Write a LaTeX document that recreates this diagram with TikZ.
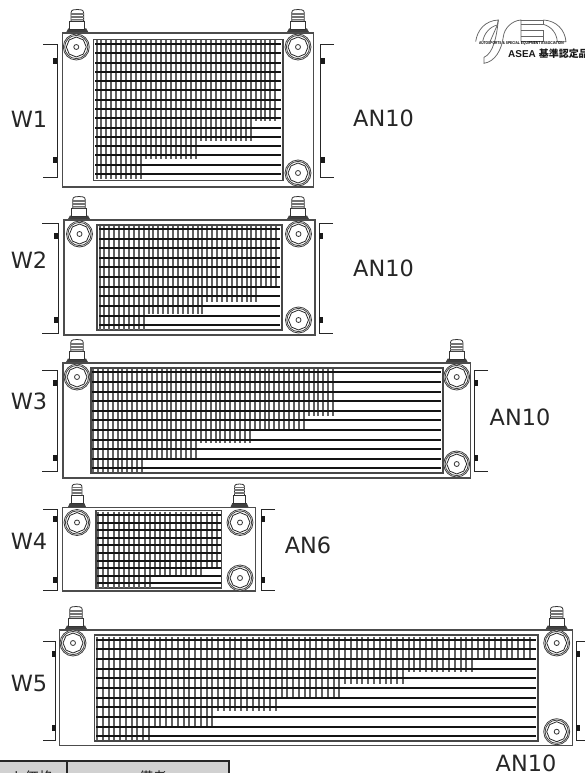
\documentclass[tikz,border=0pt]{standalone}
\usepackage{fontspec}
\setmainfont{DejaVu Sans}
\newfontfamily\cjkf{Noto Sans CJK JP}
\newfontfamily\lsb{Liberation Sans}
\tikzset{
  bodybox/.style={draw=black!70,line width=1.1bp,fill=white},
  corebox/.style={draw=black!72,line width=1.1bp},
  hline/.style={draw=black!92,line width=2bp},
  vline/.style={draw=black!62,line width=2bp},
  dim/.style={draw=black!85,line width=.8bp},
  tag/.style={fill=black!90,inner sep=0pt,minimum width=4bp,minimum height=6.5bp,rectangle},
  lab/.style={font=\fontsize{22.5}{24}\selectfont,text=black!85,inner sep=0pt},
  logoline/.style={draw=black!60,line width=.75bp},
}
\newcommand{\coolerbody}[8]{%
  \draw[bodybox] (#1,#2) rectangle (#3,#4);
  \draw[corebox] (#5,#6) rectangle (#7,#8);
}
% hxL hxR hy0 hstep hn vtop vx0 vstep steps(xmax/yend)
\newcommand{\coolergrid}[9]{%
  \foreach \xm/\ye [remember=\ye as \yp (initially #6)] in {#9}{
    \pgfmathtruncatemacro{\nv}{(\xm-#7)/#8+0.01}
    \foreach \jj in {0,...,\nv}{\draw[vline] (#7+\jj*#8,\yp) -- (#7+\jj*#8,\ye);}
  }
  \pgfmathtruncatemacro{\hlast}{#5-1}
  \foreach \ii in {0,...,\hlast}{\draw[hline] (#1,#3+\ii*#4) -- (#2,#3+\ii*#4);}
}
\newcommand{\port}[2]{%
  \begin{scope}[shift={(#1,#2)}]
    \draw[black!75,line width=.8bp,fill=white] (0,0) circle (13);
    \draw[black!75,line width=.8bp] (0,0) circle (11.6);
    \draw[black!85,line width=.8bp] (0:10)--(45:10)--(90:10)--(135:10)--(180:10)--(225:10)--(270:10)--(315:10)--cycle;
    \draw[black!80,line width=.8bp] (0,0) circle (2.5);
  \end{scope}
}
\newcommand{\fitting}[3]{%
  \begin{scope}[shift={(#1,#2)},xscale=#3]
    \fill[black!75] (-11.5,0) -- (-9,-4.5) -- (9,-4.5) -- (11.5,0) -- cycle;
    \draw[black!80,line width=.8bp,fill=white] (-7.5,-4) rectangle (7.5,-12);
    \draw[black!80,line width=.8bp,fill=white] (-6.3,-12) -- (-6.3,-20) .. controls (-6.3,-23.5) and (-3,-23.5) .. (0,-23.5) .. controls (3,-23.5) and (6.3,-23.5) .. (6.3,-20) -- (6.3,-12) -- cycle;
    \foreach \ty in {-14,-15.5,-17,-18.5,-20}{\draw[black!55,line width=.6bp] (-6.3,\ty) -- (6.3,\ty);}
  \end{scope}
}
\newcommand{\bracketL}[4]{%
  \draw[dim] (#4,#2) -- (#1,#2) -- (#1,#3) -- (#4,#3);
}
\newcommand{\tagat}[2]{\node[tag] at (#1,#2) {};}
\begin{document}
\begin{tikzpicture}[x=1bp,y=-1bp]
\useasboundingbox (0,0) rectangle (585,773);
\begin{scope}
\clip (0,0) rectangle (585,773);
\fill[white] (0,0) rectangle (585,773);

% ---- W1
\fitting{77.3}{33}{1}\fitting{298}{33}{1}
\coolerbody{62.5}{33}{313.5}{187}{93.5}{39.5}{283}{180.5}
\coolergrid{95}{281}{44}{9.29}{15}{40.5}{96.5}{4.97}{280/121,252/141,199/159,145/179}
\port{76.3}{47}\port{298}{47}\port{298}{173}
\bracketL{57.5}{44}{177}{43}\bracketL{320.5}{44}{177}{334}
\tagat{55}{61}\tagat{55}{160}\tagat{322.5}{61}\tagat{322.5}{160}

% ---- W2
\fitting{79}{220}{1}\fitting{298}{220}{1}
\coolerbody{64}{220}{315}{335}{97}{225}{282}{330}
\coolergrid{99}{280}{229}{9.62}{11}{226}{99.5}{4.9}{280/287,257/302,203/314,148/330}
\port{79.5}{234}\port{298.5}{234}\port{298.5}{320}
\bracketL{58}{223}{333}{42}\bracketL{319}{223}{333}{333}
\tagat{56}{236}\tagat{56}{320}\tagat{321}{236}\tagat{321}{320}

% ---- W3
\fitting{77}{363}{1}\fitting{456.7}{363}{1}
\coolerbody{63}{363}{470.5}{478}{91}{368}{443}{473}
\coolergrid{92}{441}{372.3}{9.6}{11}{369}{93}{4.9}{335/416,306/430,251/443,197/458,142/472}
\port{77}{377}\port{456.7}{377}\port{456.7}{464}
\bracketL{57.5}{370}{471}{42}\bracketL{474}{370}{471}{488}
\tagat{55}{383}\tagat{55}{458}\tagat{476}{383}\tagat{476}{458}

% ---- W4
\fitting{77}{507.5}{.8}\fitting{239.5}{507.5}{.8}
\coolerbody{62.5}{507.5}{255.5}{591}{96}{510.7}{221.5}{588}
\coolergrid{97}{220.5}{515}{7.6}{10}{511.5}{98}{5.17}{220/569,205/577,150/588}
\port{77}{522.5}\port{240}{522.5}\port{240}{578}
\bracketL{57.5}{509}{590}{43}\bracketL{261}{509}{590}{275}
\tagat{55}{519}\tagat{55}{580}\tagat{263}{519}\tagat{263}{580}

% ---- W5
\fitting{76}{630}{1}\fitting{556.7}{630}{1}
\coolerbody{59.5}{630}{572.5}{745.7}{94.5}{635}{538}{741}
\coolergrid{96}{536}{639.7}{9.65}{11}{637}{97}{5.77}{535/660,472/671.5,407/684,344/697,281/711,217/726,154/740}
\port{73}{643}\port{556.7}{643}\port{556.7}{731.7}
\bracketL{55}{641}{740}{43}\bracketL{576}{641}{740}{586}
\tagat{53.5}{654}\tagat{53.5}{728}\tagat{578}{654}\tagat{578}{728}

% ---- labels
\node[lab] (w1) at (29,119) {W1};
\node[lab] (w2) at (29,260.5) {W2};
\node[lab] (w3) at (29,401) {W3};
\node[lab] (w4) at (29,541.5) {W4};
\node[lab] (w5) at (29,683) {W5};
\node[lab] (a1) at (383.5,118) {AN10};
\node[lab] (a2) at (383.5,268) {AN10};
\node[lab] (a3) at (520,417) {AN10};
\node[lab] (a4) at (308,545) {AN6};
\node[lab] (a5) at (526,763.5) {AN10};

% ---- logo
\begin{scope}[shift={(440,0)},x=.3333bp,y=-.3333bp]
  \draw[logoline] (107,125) .. controls (112,90) and (135,62) .. (175,60) -- (172,75) .. controls (150,80) and (132,100) .. (128,125);
  \draw[logoline] (175,60) .. controls (170,110) and (160,160) .. (132,172) -- (132,190) .. controls (165,185) and (185,150) .. (190,110) .. controls (193,85) and (215,62) .. (243,60) -- (243,125);
  \draw[logoline] (150,125) -- (172,75);
  \draw[logoline] (243,60) -- (310,60) -- (310,73) -- (243,73);
  \draw[logoline] (243,92) -- (310,92) -- (310,108) -- (243,108);
  \draw[logoline] (310,60) .. controls (350,62) and (375,90) .. (378,125) -- (352,125) .. controls (350,100) and (335,80) .. (310,73);
  \draw[logoline] (310,125) -- (310,108);
  \draw[logoline] (243,125) -- (310,125);
  \node[inner sep=0pt] (logoband) at (244,130.5) {\scalebox{.78}[1]{\lsb\fontsize{4.2}{4.2}\selectfont\bfseries AUTOSPORTS \& SPECIAL EQUIPMENT ASSOCIATION}};
\end{scope}
\node[anchor=west,inner sep=0pt,text=black!90] (logotext) at (508,53.7) {\fontsize{10}{10}\selectfont{\lsb\bfseries ASEA}\hspace{3pt}{\cjkf\bfseries 基準認定品}};

% ---- table fragment
\fill[black!18] (0,761) rectangle (228.5,773);
\draw[black!85,line width=2bp] (0,761) -- (228.5,761) -- (228.5,774);
\draw[black!85,line width=1.2bp] (67,761) -- (67,774);
\node[inner sep=0pt,anchor=base,text=black!90] (t1) at (18,782) {\fontsize{14}{14}\selectfont\cjkf セット価格};
\node[inner sep=0pt,anchor=base,text=black!90] (t2) at (153,782) {\fontsize{14}{14}\selectfont\cjkf 備考};
\end{scope}
\end{tikzpicture}
\end{document}
